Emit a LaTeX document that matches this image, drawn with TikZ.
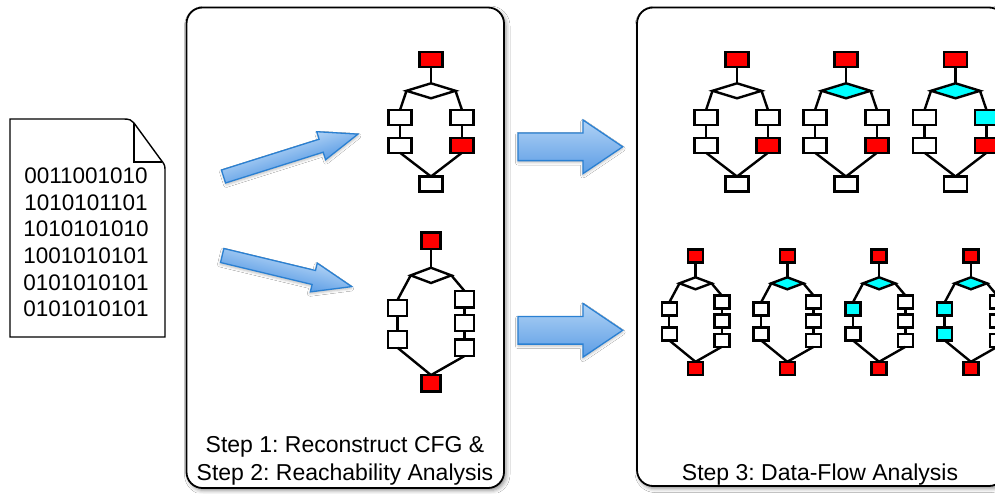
\documentclass[tikz,border=0pt]{standalone}
\usepackage{fontspec}
\setmainfont{Liberation Sans}
\frenchspacing
\usetikzlibrary{shapes.geometric,shadows.blur}
\definecolor{cfgred}{HTML}{FF0000}
\definecolor{cfgcyan}{HTML}{00FFFF}
\definecolor{arrlight}{HTML}{B0D2F5}
\definecolor{arrdark}{HTML}{5C9DE5}
\definecolor{arrline}{HTML}{2A80D2}
\tikzset{
  blk/.style={draw=black, line width=2.4pt, inner sep=0pt, outer sep=0pt, transform shape, fill=white},
  abox/.style={blk, minimum width=23pt, minimum height=15pt},
  adia/.style={blk, diamond, minimum width=49pt, minimum height=15pt},
  bbox/.style={blk, minimum width=15pt, minimum height=13pt},
  bdia/.style={blk, diamond, minimum width=32pt, minimum height=12pt},
  edge/.style={draw=black, line width=2.4pt},
  panel/.style={draw=black, line width=1.8pt, fill=white, rounded corners=16pt,
    blur shadow={shadow xshift=2pt, shadow yshift=-2.5pt, shadow blur radius=4pt, shadow opacity=45}},
  bigarrow/.style={draw=arrline, line width=1.3pt, top color=arrlight, bottom color=arrdark,
    blur shadow={shadow xshift=0pt, shadow yshift=-2pt, shadow blur radius=2.5pt, shadow opacity=25}},
  bits/.style={anchor=base, inner sep=0pt, font=\fontsize{22.5}{26.7}\selectfont},
  steptext/.style={anchor=base, inner sep=0pt, font=\fontsize{23}{28}\selectfont},
}
% type A graph: #1 name, #2 x, #3 diamond fill, #4 R1 fill, #5 R2 fill
\newcommand\cfgA[5]{%
\begin{scope}[shift={(#2,0)}]
  \node[abox, fill=cfgred] (#1T) at (0,59.5) {};
  \node[adia, fill=#3] (#1D) at (0,90.8) {};
  \node[abox] (#1La) at (-31,117.5) {};
  \node[abox] (#1Lb) at (-31,145.2) {};
  \node[abox, fill=#4] (#1Ra) at (31,117.5) {};
  \node[abox, fill=#5] (#1Rb) at (31,145.2) {};
  \node[abox] (#1B) at (0,184) {};
  \draw[edge] (#1T.south) -- (#1D.north);
  \draw[edge] (#1D.west) -- (#1La.north);
  \draw[edge] (#1D.east) -- (#1Ra.north);
  \draw[edge] (#1La.south) -- (#1Lb.north);
  \draw[edge] (#1Ra.south) -- (#1Rb.north);
  \draw[edge] (#1Lb.south) -- (#1B.north);
  \draw[edge] (#1Rb.south) -- (#1B.north);
\end{scope}}
% type B graph: #1 name, #2 x, #3 y, #4 scale, #5 diamond, #6 L1, #7 L2
\newcommand\cfgB[7]{%
\begin{scope}[shift={(#2,#3)}, scale=#4]
  \node[bbox, fill=cfgred] (#1T) at (0,0) {};
  \node[bdia, fill=#5] (#1D) at (0,27.3) {};
  \node[bbox, fill=#6] (#1La) at (-26.3,53) {};
  \node[bbox, fill=#7] (#1Lb) at (-26.3,77.8) {};
  \node[bbox] (#1Ra) at (26.3,46) {};
  \node[bbox] (#1Rb) at (26.3,64.8) {};
  \node[bbox] (#1Rc) at (26.3,84.3) {};
  \node[bbox, fill=cfgred] (#1B) at (0,112.3) {};
  \draw[edge] (#1T.south) -- (#1D.north);
  \draw[edge] (#1D.west) -- (#1La.north);
  \draw[edge] (#1D.east) -- (#1Ra.north);
  \draw[edge] (#1La.south) -- (#1Lb.north);
  \draw[edge] (#1Ra.south) -- (#1Rb.north);
  \draw[edge] (#1Rb.south) -- (#1Rc.north);
  \draw[edge] (#1Lb.south) -- (#1B.north);
  \draw[edge] (#1Rc.south) -- (#1B.north);
\end{scope}}
% block arrow along local x: #1 length, #2 shaft half width, #3 head half width, #4 head length
\newcommand\blockarrow[4]{%
  \draw[bigarrow] (0,-#2) -- ({#1-#4},-#2) -- ({#1-#4},-#3) -- (#1,0)
    -- ({#1-#4},#3) -- ({#1-#4},#2) -- (0,#2) -- cycle;}
\begin{document}
\begin{tikzpicture}[x=1pt, y=-1pt]
\useasboundingbox[fill=white] (0,0) rectangle (995,493);

% document
\draw[line width=1.4pt, fill=white] (10,119) -- (124,119)
  .. controls (129,119) and (132,120) .. (134,123) -- (161,160)
  .. controls (163.5,163) and (165,165) .. (165,169) -- (165,337) -- (10,337) -- cycle;
\draw[line width=1.4pt] (134,123) -- (134,162) -- (162,162);
\node[bits] (d1) at (86,183.3) {0011001010};
\node[bits] (d2) at (86,210) {1010101101};
\node[bits] (d3) at (86,236.7) {1010101010};
\node[bits] (d4) at (86,263.3) {1001010101};
\node[bits] (d5) at (86,290) {0101010101};
\node[bits] (d6) at (86,316.7) {0101010101};

% panels
\draw[panel] (186.5,7.5) rectangle (504,488);
\draw[panel] (637,7.5) rectangle (1005,486);

% arrows from document into step 1
\begin{scope}[transform canvas={shift={(223.5,176.5)}, rotate=17.5}]
  \blockarrow{141}{6.8}{14.7}{38.6}
\end{scope}
\begin{scope}[transform canvas={shift={(222.2,255.5)}, rotate=-13.5}]
  \blockarrow{133.2}{7.2}{14.8}{39}
\end{scope}

% arrows from step 1/2 into step 3
\begin{scope}[shift={(518,146.8)}]
  \blockarrow{104.7}{13.8}{26.8}{39.7}
\end{scope}
\begin{scope}[shift={(518,330.3)}]
  \blockarrow{104.7}{13.8}{26.8}{39.7}
\end{scope}

% graphs in step 1/2
\cfgA{p}{431}{white}{white}{cfgred}
\cfgB{q}{431}{240.7}{1.27}{white}{white}{white}

% graphs in step 3
\cfgA{ra}{737}{white}{white}{cfgred}
\cfgA{rb}{846}{cfgcyan}{white}{cfgred}
\cfgA{rc}{955.5}{cfgcyan}{cfgcyan}{cfgred}
\cfgB{sa}{695.5}{256}{1}{white}{white}{white}
\cfgB{sb}{787.3}{256}{1}{cfgcyan}{white}{white}
\cfgB{sc}{879.1}{256}{1}{cfgcyan}{cfgcyan}{white}
\cfgB{sd}{970.9}{256}{1}{cfgcyan}{cfgcyan}{cfgcyan}

% labels
\node[steptext] (s1) at (345,452) {Step 1: Reconstruct CFG \&};
\node[steptext] (s2) at (345,480) {Step 2: Reachability Analysis};
\node[steptext] (s3) at (820,480) {Step 3: Data-Flow Analysis};
\end{tikzpicture}
\end{document}
